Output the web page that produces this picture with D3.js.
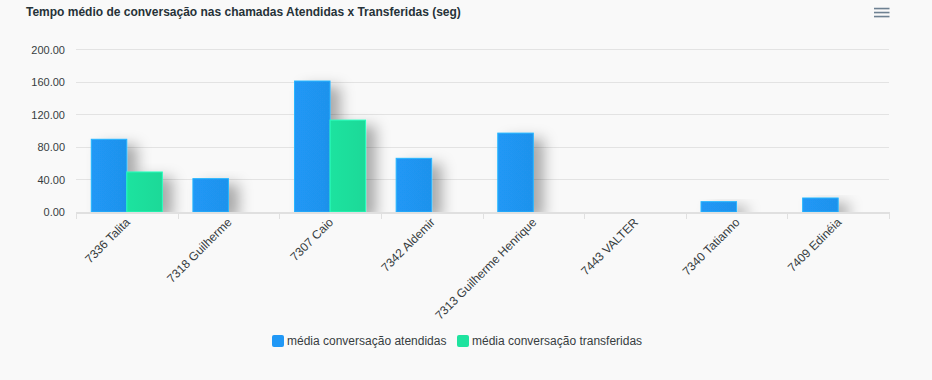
<!DOCTYPE html>
<html><head><meta charset="utf-8">
<script src="https://cdn.jsdelivr.net/npm/d3@7/dist/d3.min.js"></script>
<style>
html,body{margin:0;padding:0;background:#f9f9f9;}
svg{display:block;font-family:Helvetica, Arial, "Liberation Sans", sans-serif;}
</style></head>
<body>
<svg id="chart" width="932" height="380"></svg>
<script>
const categories = ["7336 Talita","7318 Guilherme","7307 Caio","7342 Aldemir","7313 Guilherme Henrique","7443 VALTER","7340 Tatianno","7409 Edinéia"];
const atendidas = [89.4, 41, 161, 66, 97, 0, 12.7, 17.2];
const transferidas = [49.2, 0, 113, 0, 0, 0, 0, 0];
const seriesNames = ["média conversação atendidas","média conversação transferidas"];
const seriesColors = ["#2098f6","#1ee39f"];
const yTicks = [0,40,80,120,160,200];
const title = "Tempo médio de conversação nas chamadas Atendidas x Transferidas (seg)";

const svg = d3.select("#chart");
const W = 932, H = 380;
const m = {left:76, right:43};
const x = d3.scaleBand().domain(categories).range([m.left, W - m.right]).paddingInner(0).paddingOuter(0);
const y = d3.scaleLinear().domain([0,200]).range([212, 49.3]);
const x1 = d3.scaleBand().domain([0,1]).range([0, x.bandwidth()]).paddingInner(0).paddingOuter(0.43);

const defs = svg.append("defs");
const f = defs.append("filter").attr("id","shadow").attr("x","-50%").attr("y","-20%").attr("width","250%").attr("height","140%");
f.append("feDropShadow").attr("dx",10).attr("dy",6).attr("stdDeviation",7).attr("flood-color","#000").attr("flood-opacity",0.32);
defs.append("clipPath").attr("id","plotclip").append("rect").attr("x",0).attr("y",0).attr("width",W).attr("height",212.5);
seriesColors.forEach((c,i)=>{
  const g = defs.append("linearGradient").attr("id","g"+i).attr("x1",0).attr("x2",1).attr("y1",0).attr("y2",0);
  g.append("stop").attr("offset","0%").attr("stop-color",c);
  g.append("stop").attr("offset","100%").attr("stop-color",d3.color(c).darker(0.12));
});

// title
svg.append("text").attr("x",26).attr("y",16).attr("font-size",12).attr("font-weight","bold").attr("fill","#263238").text(title);

// menu icon
[8.5,12.5,16.5].forEach(yy=>{
  svg.append("rect").attr("x",874).attr("y",yy-0.75).attr("width",15.5).attr("height",1.6).attr("fill","#6e8192");
});

// grid
svg.append("g").selectAll("line").data(yTicks).join("line")
  .attr("x1",m.left).attr("x2",W-m.right)
  .attr("y1",d=>Math.round(y(d))+0.5).attr("y2",d=>Math.round(y(d))+0.5)
  .attr("stroke","#e3e3e3").attr("stroke-width",1);

// y axis labels
const yAxis = d3.axisLeft(y).tickValues(yTicks).tickFormat(d3.format(".2f")).tickSize(0).tickPadding(0);
const yg = svg.append("g").attr("transform","translate(65,0)").call(yAxis);
yg.select(".domain").remove();
yg.selectAll("text").attr("font-size",11).attr("fill","#373d3f").attr("font-family","Helvetica, Arial, 'Liberation Sans', sans-serif").attr("dy","0.35em");

// bars
const data = categories.map((c,i)=>({c, v:[atendidas[i], transferidas[i]]}));
const groups = svg.append("g").attr("clip-path","url(#plotclip)").selectAll("g").data(data).join("g").attr("transform",d=>`translate(${x(d.c)},0)`);
groups.selectAll("rect").data(d=>d.v.map((v,i)=>({v,i})).filter(o=>o.v>0)).join("rect")
  .attr("x",d=>x1(d.i)).attr("width",x1.bandwidth())
  .attr("y",d=>y(d.v)).attr("height",d=>y(0)-y(d.v))
  .attr("fill",d=>`url(#g${d.i})`)
  .attr("stroke",d=>d3.color(seriesColors[d.i]).brighter(0.5))
  .attr("stroke-width",1)
  .attr("filter","url(#shadow)");

// x axis
const xAxis = d3.axisBottom(x).tickSize(0).tickPadding(0);
const xg = svg.append("g").attr("transform","translate(0,212)").call(xAxis);
xg.select(".domain").remove();
xg.selectAll(".tick text").remove();
svg.append("line").attr("x1",m.left).attr("x2",W-m.right+1).attr("y1",213).attr("y2",213).attr("stroke","#e0e0e0").attr("stroke-width",2);
const tickXs = categories.map(c=>x(c)).concat([x(categories[categories.length-1])+x.bandwidth()]);
svg.append("g").selectAll("line").data(tickXs).join("line")
  .attr("x1",d=>Math.round(d)+0.5).attr("x2",d=>Math.round(d)+0.5).attr("y1",213).attr("y2",219)
  .attr("stroke","#e0e0e0");
svg.append("g").selectAll("text").data(categories).join("text")
  .attr("transform",c=>`translate(${x(c)+x.bandwidth()/2+4},${223}) rotate(-45)`)
  .attr("text-anchor","end").attr("font-size",12).attr("fill","#373d3f").text(c=>c);

// legend
const legend = svg.append("g");
const lx = [272, 457];
seriesNames.forEach((n,i)=>{
  legend.append("rect").attr("x",lx[i]).attr("y",335).attr("width",12).attr("height",12).attr("rx",2).attr("fill",seriesColors[i]);
  legend.append("text").attr("x",lx[i]+15).attr("y",345).attr("font-size",12).attr("fill","#373d3f").text(n);
});
</script>
</body></html>
